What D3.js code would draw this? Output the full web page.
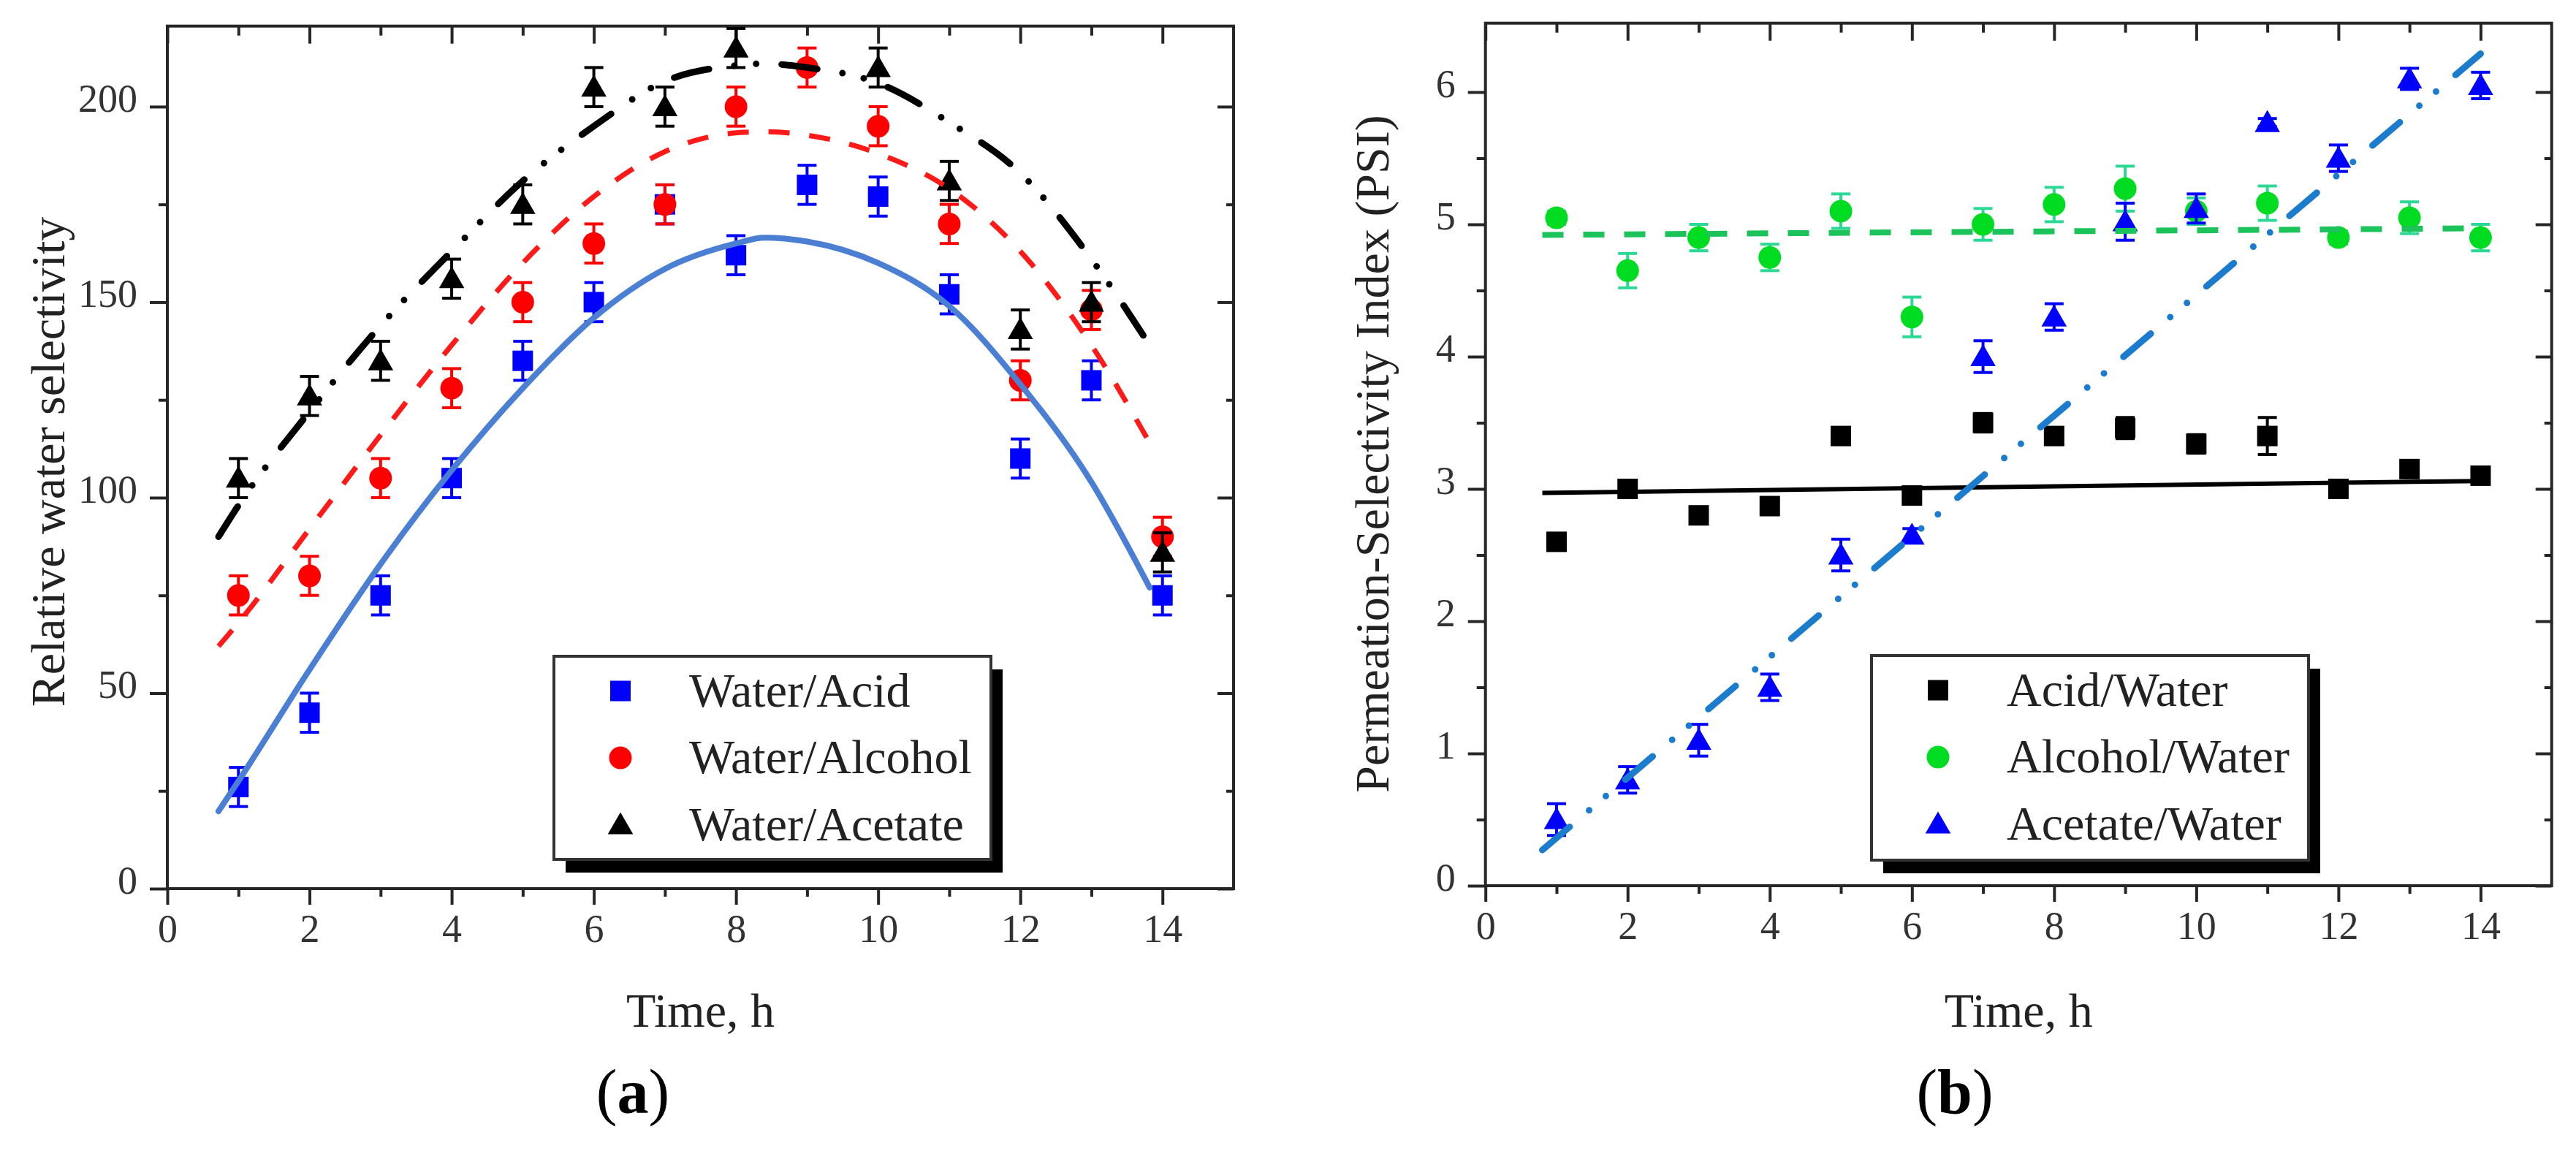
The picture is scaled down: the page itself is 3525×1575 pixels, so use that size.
<!DOCTYPE html>
<html>
<head>
<meta charset="utf-8">
<script src="https://cdn.jsdelivr.net/npm/d3@7"></script>
<style>
  html, body { margin: 0; padding: 0; background: #fff; }
  svg { display: block; }
</style>
</head>
<body>
<svg id="chart" width="3525" height="1575"></svg>
<script>
// ---------------- DATA ----------------
const timeH = [1, 2, 3, 4, 5, 6, 7, 8, 9, 10, 11, 12, 13, 14];

// Panel (a): relative water selectivity
const waterAcid      = [26, 45, 75, 105, 135, 150, 175, 162, 180, 177, 152, 110, 130, 75];
const waterAcidErr   = [5, 5, 5, 5, 5, 5, 5, 5, 5, 5, 5, 5, 5, 5];
const waterAlcohol   = [75, 80, 105, 128, 150, 165, 175, 200, 210, 195, 170, 130, 148, 90];
const waterAlcoholErr= [5, 5, 5, 5, 5, 5, 5, 5, 5, 5, 5, 5, 5, 5];
const waterAcetateT  = [1, 2, 3, 4, 5, 6, 7, 8, 10, 11, 12, 13, 14];
const waterAcetate   = [105, 126, 135, 156, 175, 205, 200, 215, 210, 181, 143, 150, 86];
const waterAcetateErr= [5, 5, 5, 5, 5, 5, 5, 5, 5, 5, 5, 5, 5];

// Panel (a) fitted curves
const fitTimeA       = [0.72, 1, 2, 3, 4, 5, 6, 7, 8, 8.4, 9, 10, 11, 12, 13, 13.82];
const fitWaterAcid   = [19.8, 27.5, 56, 83, 107, 128, 146, 158.5, 165, 166.5, 165.5, 160, 149, 129, 104, 77];
const fitWaterAlcohol= [62, 68, 92, 116, 139, 160, 177, 188.5, 193.3, 193.6, 192.7, 188, 179, 163, 139, 114];
const fitWaterAcetate= [90, 98, 122, 144, 163, 181, 195, 206.5, 210.5, 211, 210, 206, 196, 183, 161, 139];

// Panel (b): permeation-selectivity index
const acidWater       = [2.6, 3.0, 2.8, 2.87, 3.4, 2.95, 3.5, 3.4, 3.46, 3.34, 3.4, 3.0, 3.15, 3.1];
const acidWaterErr    = [0.05, 0.06, 0.04, 0.06, 0.05, 0.04, 0.07, 0.05, 0.08, 0.07, 0.14, 0.05, 0.04, 0.05];
const alcoholWater    = [5.05, 4.65, 4.9, 4.75, 5.1, 4.3, 5.0, 5.15, 5.27, 5.1, 5.16, 4.9, 5.05, 4.9];
const alcoholWaterErr = [0.05, 0.13, 0.1, 0.1, 0.13, 0.15, 0.12, 0.13, 0.17, 0.1, 0.13, 0.05, 0.12, 0.1];
const acetateWater    = [0.5, 0.8, 1.1, 1.5, 2.5, 2.65, 4.0, 4.3, 5.02, 5.12, 5.77, 5.5, 6.1, 6.05];
const acetateWaterErr = [0.12, 0.1, 0.12, 0.1, 0.12, 0.05, 0.12, 0.1, 0.14, 0.11, 0.03, 0.1, 0.08, 0.1];

// Panel (b) fitted lines
const fitTimeB        = [0.8, 14];
const fitAcidWater    = [2.97, 3.06];
const fitAlcoholWater = [4.92, 4.97];
const fitAcetateWater = [0.27, 6.29];

// Tick values / labels
const xMajorTicks = [0, 2, 4, 6, 8, 10, 12, 14];
const xMinorTicks = [1, 3, 5, 7, 9, 11, 13, 15];
const yMajorTicksA = [0, 50, 100, 150, 200];
const yMinorTicksA = [25, 75, 125, 175];
const yMajorTicksB = [0, 1, 2, 3, 4, 5, 6];
const yMinorTicksB = [0.5, 1.5, 2.5, 3.5, 4.5, 5.5];

const legendA = ["Water/Acid", "Water/Alcohol", "Water/Acetate"];
const legendB = ["Acid/Water", "Alcohol/Water", "Acetate/Water"];

// ---------------- DRAW ----------------
const FONT = "'Liberation Serif', 'Times New Roman', serif";
const svg = d3.select("#chart");
svg.append("rect").attr("width", 3525).attr("height", 1575).attr("fill", "#fff");

const symSquare = d3.symbol().type(d3.symbolSquare).size(28 * 28);
const symCircle = d3.symbol().type(d3.symbolCircle).size(Math.PI * 15.5 * 15.5);
const symTri    = d3.symbol().type(d3.symbolTriangle).size(520);

function panel(cfg) {
  const g = svg.append("g");
  const x = d3.scaleLinear().domain([0, 15]).range([cfg.left, cfg.right]);
  const y = d3.scaleLinear().domain(cfg.yDomain).range([cfg.bottom, cfg.top]);

  // axes
  const axisCol = "#262626";
  function styleAxis(sel) {
    sel.select(".domain").remove();
    sel.selectAll(".tick line").attr("stroke", axisCol).attr("stroke-width", 4);
    sel.selectAll("text").attr("font-family", FONT).attr("font-size", 54).attr("fill", "#333");
  }
  g.append("g").attr("transform", `translate(0,${cfg.bottom})`)
    .call(d3.axisBottom(x).tickValues(xMajorTicks).tickSize(22).tickPadding(13).tickFormat(d3.format("d")))
    .call(styleAxis);
  g.append("g").attr("transform", `translate(0,${cfg.bottom})`)
    .call(d3.axisBottom(x).tickValues(xMinorTicks.filter(v => v < 15)).tickSize(11).tickFormat(""))
    .call(styleAxis);
  g.append("g").attr("transform", `translate(0,${cfg.top})`)
    .call(d3.axisTop(x).tickValues(xMajorTicks).tickSize(-24).tickFormat(""))
    .call(styleAxis);
  g.append("g").attr("transform", `translate(0,${cfg.top})`)
    .call(d3.axisTop(x).tickValues(xMinorTicks.filter(v => v < 15)).tickSize(-13).tickFormat(""))
    .call(styleAxis);
  const yl = g.append("g").attr("transform", `translate(${cfg.left},0)`)
    .call(d3.axisLeft(y).tickValues(cfg.yMajor).tickSize(24).tickPadding(17).tickFormat(cfg.yFmt))
    .call(styleAxis);
  yl.selectAll("text").attr("dy", "0.12em");
  g.append("g").attr("transform", `translate(${cfg.left},0)`)
    .call(d3.axisLeft(y).tickValues(cfg.yMinor).tickSize(12).tickFormat(""))
    .call(styleAxis);
  g.append("g").attr("transform", `translate(${cfg.right},0)`)
    .call(d3.axisRight(y).tickValues(cfg.yMajor).tickSize(-22).tickFormat(""))
    .call(styleAxis);
  g.append("g").attr("transform", `translate(${cfg.right},0)`)
    .call(d3.axisRight(y).tickValues(cfg.yMinor).tickSize(-10).tickFormat(""))
    .call(styleAxis);
  g.append("rect")
    .attr("x", cfg.left).attr("y", cfg.top)
    .attr("width", cfg.right - cfg.left).attr("height", cfg.bottom - cfg.top)
    .attr("fill", "none").attr("stroke", axisCol).attr("stroke-width", 4);

  // scatter series with error bars
  cfg.series.forEach(s => {
    const sg = g.append("g");
    const pts = s.t.map((t, i) => ({ t, v: s.v[i], e: s.e[i] }));
    const eb = sg.selectAll("g.eb").data(pts).enter().append("g")
      .attr("stroke", s.errColor).attr("stroke-width", 4);
    eb.append("line").attr("x1", d => x(d.t)).attr("x2", d => x(d.t))
      .attr("y1", d => y(d.v + d.e)).attr("y2", d => y(d.v - d.e));
    eb.append("line").attr("x1", d => x(d.t) - 13).attr("x2", d => x(d.t) + 13)
      .attr("y1", d => y(d.v + d.e)).attr("y2", d => y(d.v + d.e));
    eb.append("line").attr("x1", d => x(d.t) - 13).attr("x2", d => x(d.t) + 13)
      .attr("y1", d => y(d.v - d.e)).attr("y2", d => y(d.v - d.e));
    sg.selectAll("path.m").data(pts).enter().append("path")
      .attr("d", s.sym)
      .attr("transform", d => `translate(${x(d.t)},${y(d.v) + (s.sym === symTri ? 3 : 0)})`)
      .attr("fill", s.color);
  });

  // fitted curves
  cfg.fits.forEach(f => {
    const pts = f.t.map((t, i) => [t, f.v[i]]);
    g.append("path")
      .attr("d", d3.line().x(d => x(d[0])).y(d => y(d[1])).curve(d3.curveMonotoneX)(pts))
      .attr("fill", "none").attr("stroke", f.color).attr("stroke-width", f.width)
      .attr("stroke-dasharray", f.dash || null)
      .attr("stroke-linecap", f.cap || "butt");
  });

  // legend
  const L = cfg.legend;
  g.append("rect").attr("x", L.x + 16).attr("y", L.y + 18).attr("width", L.w).attr("height", L.h).attr("fill", "#000");
  g.append("rect").attr("x", L.x).attr("y", L.y).attr("width", L.w).attr("height", L.h)
    .attr("fill", "#fff").attr("stroke", "#333").attr("stroke-width", 4);
  const rows = [L.y + 47.5, L.y + 139, L.y + 230.5];
  cfg.series.forEach((s, i) => {
    g.append("path").attr("d", s.sym)
      .attr("transform", `translate(${L.x + 91},${rows[i] + (s.sym === symTri ? 3 : 0)})`)
      .attr("fill", s.color);
    g.append("text").attr("x", L.x + 185).attr("y", rows[i] + 21)
      .attr("font-family", FONT).attr("font-size", 66).attr("fill", "#222")
      .text(L.labels[i]);
  });

  // axis titles
  g.append("text")
    .attr("transform", `translate(${cfg.yTitleX},${cfg.yTitleY}) rotate(-90)`)
    .attr("text-anchor", "middle").attr("dominant-baseline", "central")
    .attr("font-family", FONT).attr("font-size", 66).attr("fill", "#222")
    .text(cfg.yTitle);
  g.append("text")
    .attr("x", (cfg.left + cfg.right) / 2).attr("y", 1405)
    .attr("text-anchor", "middle")
    .attr("font-family", FONT).attr("font-size", 66).attr("fill", "#222")
    .text("Time, h");
  const cap = g.append("text")
    .attr("x", cfg.capX).attr("y", 1523).attr("text-anchor", "middle")
    .attr("font-family", FONT).attr("font-size", 86).attr("fill", "#000");
  cap.append("tspan").text("(");
  cap.append("tspan").attr("font-weight", "bold").text(cfg.capLetter);
  cap.append("tspan").text(")");
}

panel({
  left: 229, right: 1688, top: 35.7, bottom: 1216,
  yDomain: [0, 220.6], yMajor: yMajorTicksA, yMinor: yMinorTicksA, yFmt: d3.format("d"),
  series: [
    { t: timeH, v: waterAcid, e: waterAcidErr, color: "#0000ff", errColor: "#0000ff", sym: symSquare },
    { t: timeH, v: waterAlcohol, e: waterAlcoholErr, color: "#ff0000", errColor: "#ff0000", sym: symCircle },
    { t: waterAcetateT, v: waterAcetate, e: waterAcetateErr, color: "#000000", errColor: "#000000", sym: symTri }
  ],
  fits: [
    { t: fitTimeA, v: fitWaterAcid, color: "#4a7fd4", width: 8, cap: "round" },
    { t: fitTimeA, v: fitWaterAlcohol, color: "#ff1a1a", width: 7, dash: "29 27" },
    { t: fitTimeA, v: fitWaterAcetate, color: "#000000", width: 9, dash: "49 35 0 30 0 35", cap: "round" }
  ],
  legend: { x: 758, y: 898, w: 598, h: 278, labels: legendA },
  yTitle: "Relative water selectivity", yTitleX: 65, yTitleY: 632,
  capX: 866, capLetter: "a"
});

panel({
  left: 2032.7, right: 3491.7, top: 31.7, bottom: 1212,
  yDomain: [0, 6.521], yMajor: yMajorTicksB, yMinor: yMinorTicksB, yFmt: d3.format("d"),
  series: [
    { t: timeH, v: acidWater, e: acidWaterErr, color: "#000000", errColor: "#000000", sym: symSquare },
    { t: timeH, v: alcoholWater, e: alcoholWaterErr, color: "#00dc22", errColor: "#2bd894", sym: symCircle },
    { t: timeH, v: acetateWater, e: acetateWaterErr, color: "#0000ff", errColor: "#0000ff", sym: symTri }
  ],
  fits: [
    { t: fitTimeB, v: fitAcidWater, color: "#000000", width: 6 },
    { t: fitTimeB, v: fitAlcoholWater, color: "#1cc35a", width: 8, dash: "29 27" },
    { t: fitTimeB, v: fitAcetateWater, color: "#1b7bcc", width: 9, dash: "49 35 0 30 0 35", cap: "round" }
  ],
  legend: { x: 2561, y: 897, w: 598, h: 280, labels: legendB },
  yTitle: "Permeation-Selectivity Index (PSI)", yTitleX: 1877, yTitleY: 621,
  capX: 2675, capLetter: "b"
});
</script>
</body>
</html>
